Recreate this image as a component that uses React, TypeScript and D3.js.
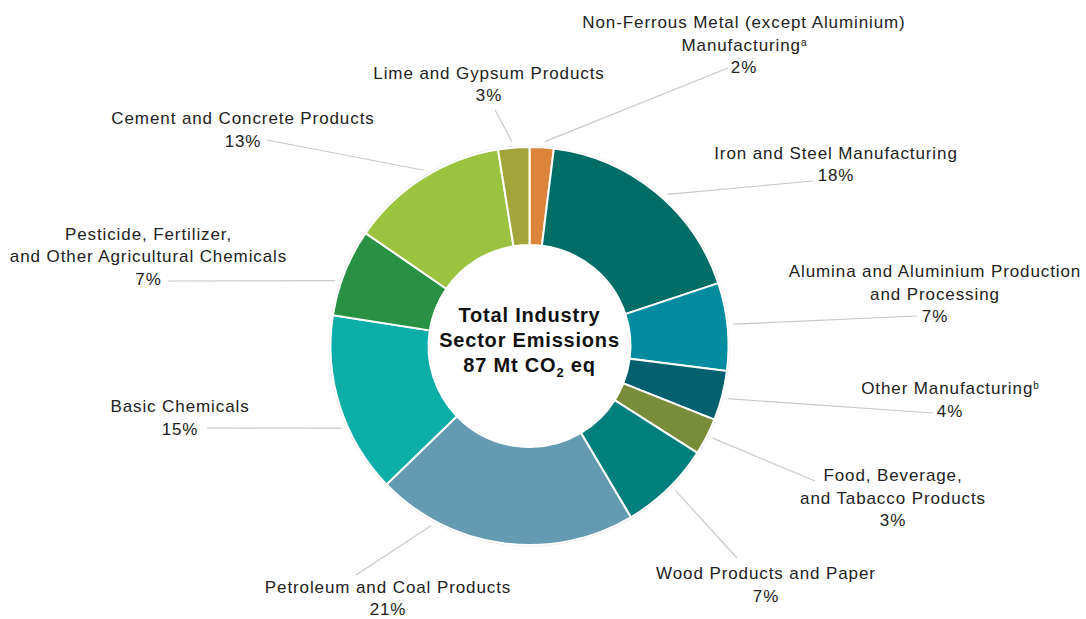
import React from "react";
import * as d3 from "d3";

// ---- Data ----
const categories = [
  "Non-Ferrous Metal (except Aluminium) Manufacturing",
  "Iron and Steel Manufacturing",
  "Alumina and Aluminium Production and Processing",
  "Other Manufacturing",
  "Food, Beverage, and Tabacco Products",
  "Wood Products and Paper",
  "Petroleum and Coal Products",
  "Basic Chemicals",
  "Pesticide, Fertilizer, and Other Agricultural Chemicals",
  "Cement and Concrete Products",
  "Lime and Gypsum Products",
];
const emissionsMt = [1.7, 15.6, 6.2, 3.5, 2.6, 6.5, 18.5, 12.8, 6.2, 11.2, 2.2];
const shareLabels = ["2%", "18%", "7%", "4%", "3%", "7%", "21%", "15%", "7%", "13%", "3%"];
const labelLines = [
  ["Non-Ferrous Metal (except Aluminium)", "Manufacturing"],
  ["Iron and Steel Manufacturing"],
  ["Alumina and Aluminium Production", "and Processing"],
  ["Other Manufacturing"],
  ["Food, Beverage,", "and Tabacco Products"],
  ["Wood Products and Paper"],
  ["Petroleum and Coal Products"],
  ["Basic Chemicals"],
  ["Pesticide, Fertilizer,", "and Other Agricultural Chemicals"],
  ["Cement and Concrete Products"],
  ["Lime and Gypsum Products"],
];
const footnotes = ["a", "", "", "b", "", "", "", "", "", "", ""];
const colors = [
  "#dd843b", "#006e66", "#038b9f", "#045f6f", "#798c3a", "#017f7c",
  "#659bb2", "#0caea7", "#289143", "#9bc340", "#a2a63a",
];
const centerTitle = ["Total Industry", "Sector Emissions"];

// ---- Layout (label placement) ----
const labelLayout = [
  { x: 744, y: 28, ex: 728, ey: 68, a: 4.3 },
  { x: 836, y: 158.5, ex: 813, ey: 181, a: 42.3 },
  { x: 935, y: 277, ex: 917, ey: 316, a: 83.9 },
  { x: 950, y: 394, ex: 933, ey: 413, a: 104.9 },
  { x: 893, y: 481, ex: 815, ey: 481, a: 116.7 },
  { x: 766, y: 579, ex: 737, ey: 558, a: 134.7 },
  { x: 388, y: 592.7, ex: 356, ey: 575, a: 208.7 },
  { x: 180, y: 412, ex: 207, ey: 428, a: 246.4 },
  { x: 148.5, y: 239.5, ex: 168, ey: 281, a: 288.6 },
  { x: 243, y: 124, ex: 267, ey: 140, a: 329 },
  { x: 489, y: 78.5, ex: 495, ey: 110, a: 355.1 },
];

const W = 1086;
const H = 619;
const cx = 529.5;
const cy = 346;
const rOuter = 199;
const rInner = 101;
const rLeader = 205;
const lineH = 22.5;
const fontFamily = "'Liberation Sans', Arial, Helvetica, sans-serif";

export default function App() {
  const pie = d3
    .pie<number>()
    .sort(null)
    .value((d) => d)
    .startAngle(0)
    .endAngle(2 * Math.PI);
  const arcs = pie(emissionsMt);
  const arc = d3
    .arc<d3.PieArcDatum<number>>()
    .innerRadius(rInner)
    .outerRadius(rOuter);

  return (
    <svg
      width={W}
      height={H}
      style={{ position: "absolute", left: 0, top: 0, background: "#fff" }}
      fontFamily={fontFamily}
    >
      <rect x={0} y={0} width={W} height={H} fill="#fff" />
      {/* leader lines */}
      {labelLayout.map((l, i) => {
        const ang = (l.a * Math.PI) / 180;
        const sx = cx + rLeader * Math.sin(ang);
        const sy = cy - rLeader * Math.cos(ang);
        return (
          <line
            key={"ld" + i}
            x1={sx}
            y1={sy}
            x2={l.ex}
            y2={l.ey}
            stroke="#c9c9c9"
            strokeWidth={1.2}
          />
        );
      })}
      <g transform={`translate(${cx},${cy})`}>
        <circle r={rOuter + 0.8} fill="none" stroke="#ebebeb" strokeWidth={1.6} />
        {arcs.map((a, i) => (
          <path
            key={categories[i]}
            d={arc(a) || ""}
            fill={colors[i]}
            stroke="#fff"
            strokeWidth={2}
          />
        ))}
        <circle r={rInner - 1} fill="#fff" />
      </g>
      {/* center text */}
      <g
        fontWeight="bold"
        fontSize={20}
        letterSpacing={0.8}
        textAnchor="middle"
        fill="#111"
      >
        <text x={cx} y={322}>{centerTitle[0]}</text>
        <text x={cx} y={347}>{centerTitle[1]}</text>
        <text x={cx} y={372}>
          <tspan>87 Mt CO</tspan>
          <tspan fontSize={13} dy={5}>2</tspan>
          <tspan dy={-5}> eq</tspan>
        </text>
      </g>
      {/* labels */}
      <g fontSize={17} letterSpacing={0.9} textAnchor="middle" fill="#222">
        {labelLayout.map((l, i) => {
          const lines = labelLines[i];
          return (
            <g key={"lb" + i}>
              {lines.map((t, j) => (
                <text key={j} x={l.x} y={l.y + j * lineH}>
                  {t}
                  {j === lines.length - 1 && footnotes[i] ? (
                    <tspan fontSize={10} dy={-5} letterSpacing={0}>
                      {footnotes[i]}
                    </tspan>
                  ) : null}
                </text>
              ))}
              <text x={l.x} y={l.y + lines.length * lineH}>
                {shareLabels[i]}
              </text>
            </g>
          );
        })}
      </g>
    </svg>
  );
}
